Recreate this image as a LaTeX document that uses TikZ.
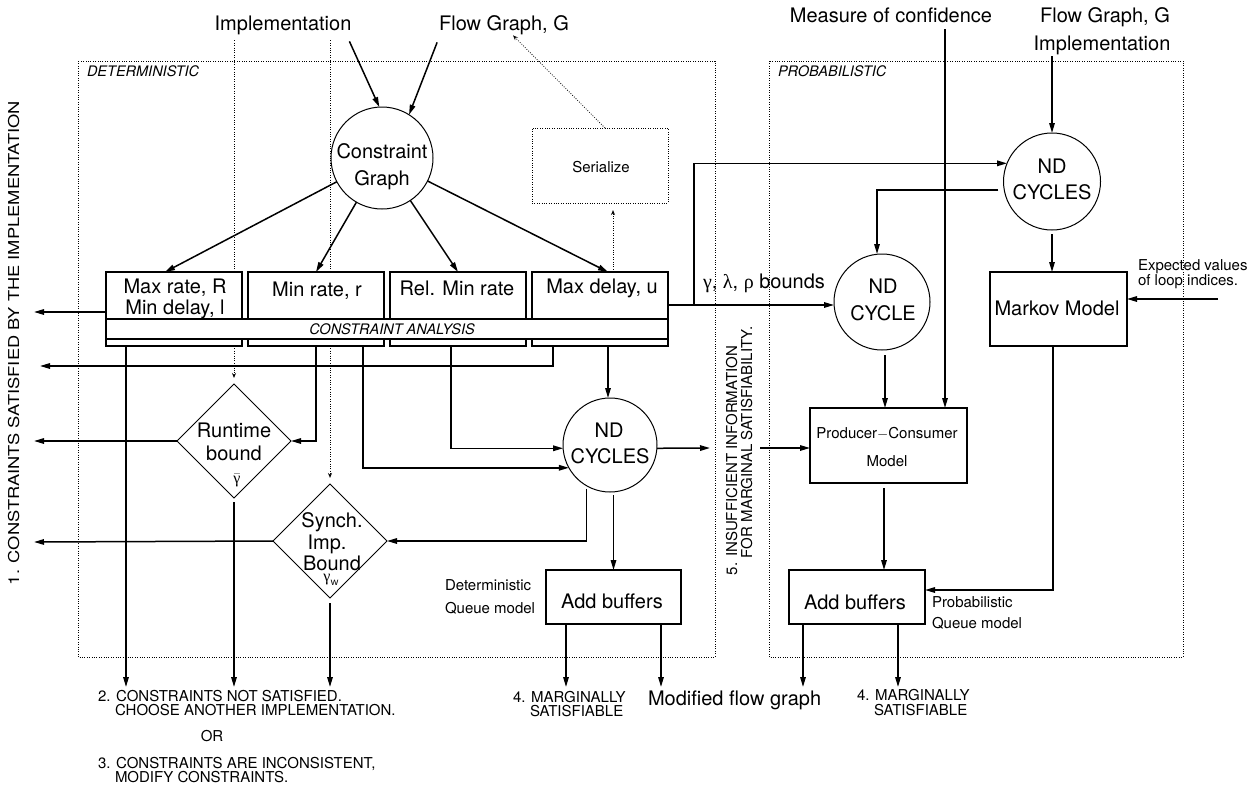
\documentclass[tikz,border=0pt]{standalone}
\usepackage{fontspec}
\setmainfont{TeX Gyre Heros}
\newfontfamily\grk{Liberation Serif}
\usetikzlibrary{arrows.meta,shapes.geometric,calc}
\begin{document}
\begin{tikzpicture}[x=1pt,y=-1pt,
  every node/.style={inner sep=0pt,outer sep=0pt},
  lbl/.style={anchor=base,font=\fontsize{20}{22}\selectfont},
  lblw/.style={anchor=base west,font=\fontsize{20}{22}\selectfont},
  sml/.style={anchor=base,font=\fontsize{15}{16}\selectfont},
  smlw/.style={anchor=base west,font=\fontsize{15}{16}\selectfont},
  tag/.style={anchor=base west,font=\fontsize{14.5}{16}\selectfont\itshape},
  link/.style={line width=1.5pt},
  arr/.style={link,-{Triangle[length=10pt,width=5.5pt]}},
  dots/.style={line width=0.8pt,dash pattern=on 0.8pt off 1.6pt},
  darr/.style={dots,-{Stealth[length=5pt,width=4pt,open]}},
  blk/.style={draw,line width=1.3pt,fill=white,rectangle},
  circ/.style={draw,circle,line width=1pt,minimum size=#1,fill=white},
  dmd/.style={draw,diamond,line width=1pt,minimum width=114pt,minimum height=114pt,aspect=1,fill=white},
]
\useasboundingbox (0,0) rectangle (1255,787);

% ---------- the two regions ----------
\draw[dots] (78,61) rectangle (715,657);
\draw[dots] (769,61) rectangle (1183,657);
\node[tag] (detlab) at (87,76) {DETERMINISTIC};
\node[tag] (problab) at (778,76) {PROBABILISTIC};

% ---------- inputs at the top ----------
\node[lbl] (impl) at (283,30) {Implementation};
\node[lbl] (fg) at (504,30) {Flow Graph, G};
\node[lbl] (moc) at (891,23) {Measure of confidence};
\node[lbl] (fg2) at (1105,23) {Flow Graph, G};
\node[lbl] (impl2) at (1102,50) {Implementation};

% ---------- deterministic side ----------
\node[circ=102pt] (cg) at (382,158) {};
\node[lbl] (cgt1) at (382,158) {Constraint};
\node[lbl] (cgt2) at (382,185) {Graph};

\node[draw,dots,minimum width=136pt,minimum height=75pt] (ser) at (600,165.5) {};
\node[sml] (sert) at (601,172) {Serialize};

\node[blk,minimum width=136pt,minimum height=74pt] (b1) at (174,309) {};
\node[blk,minimum width=136pt,minimum height=74pt] (b2) at (316,309) {};
\node[blk,minimum width=136pt,minimum height=74pt] (b3) at (458,309) {};
\node[blk,minimum width=136pt,minimum height=74pt] (b4) at (600,309) {};
\node[blk,minimum width=562pt,minimum height=20pt] (ca) at (387,329) {};
\node[tag,anchor=base] (cat) at (392,334) {CONSTRAINT ANALYSIS};
\node[lbl] (b1t1) at (175,293) {Max rate, R};
\node[lbl] (b1t2) at (175,314) {Min delay, l};
\node[lbl] (b2t) at (317,296) {Min rate, r};
\node[lbl] (b3t) at (457,295) {Rel. Min rate};
\node[lbl] (b4t) at (602,293) {Max delay, u};

\node[dmd] (rb) at (234,441) {};
\node[lbl] (rbt1) at (234,437) {Runtime};
\node[lbl] (rbt2) at (234,460) {bound};
\node[font=\fontsize{16}{16}\grk] (rbt3) at (237,480) {$\bar{\hbox{\grk γ}}$};

\node[dmd] (sb) at (330,541) {};
\node[lbl] (sbt1) at (332,527) {Synch.};
\node[lbl] (sbt2) at (327,549) {Imp.};
\node[lbl] (sbt3) at (332,570) {Bound};
\node[font=\fontsize{16}{16}\grk] (sbt4) at (331,580) {γ\raisebox{-4pt}{\fontsize{12}{12}\selectfont\sffamily w}};

\node[circ=94pt] (ndm) at (610,445) {};
\node[lbl] (ndmt1) at (609,437) {ND};
\node[lbl] (ndmt2) at (610,463) {CYCLES};

\node[blk,minimum width=135pt,minimum height=54pt] (ab1) at (613.5,597) {};
\node[lbl] (ab1t) at (612,608) {Add buffers};
\node[smlw] (dq1) at (445,590) {Deterministic};
\node[smlw] (dq2) at (445,613) {Queue model};

\node[lblw] (bnd) at (703,288) {{\grk γ}, {\grk λ}, {\grk ρ} bounds};

% ---------- probabilistic side ----------
\node[circ=97pt] (ndt) at (1052,181.5) {};
\node[lbl] (ndtt1) at (1052,173) {ND};
\node[lbl] (ndtt2) at (1052,199) {CYCLES};

\node[circ=96pt] (ndc) at (882,302) {};
\node[lbl] (ndct1) at (883,293) {ND};
\node[lbl] (ndct2) at (883,320) {CYCLE};

\node[blk,minimum width=137pt,minimum height=74pt] (mk) at (1058.5,309) {};
\node[lbl] (mkt) at (1057,315) {Markov Model};
\node[smlw] (ev1) at (1138,270) {Expected values};
\node[smlw] (ev2) at (1138,285) {of loop indices.};

\node[blk,minimum width=157pt,minimum height=75pt] (pc) at (888.5,445.5) {};
\node[sml] (pct1) at (887,438) {Producer$-$Consumer};
\node[sml] (pct2) at (887,466) {Model};

\node[blk,minimum width=136pt,minimum height=54pt] (ab2) at (857,597) {};
\node[lbl] (ab2t) at (855,609) {Add buffers};
\node[smlw] (pq1) at (932,607) {Probabilistic};
\node[smlw] (pq2) at (932,628) {Queue model};

% ---------- outcomes ----------
\node[anchor=base,font=\fontsize{15}{16}\selectfont,rotate=90] (out1) at (19,343)
  {\scalebox{1.22}[1]{1. CONSTRAINTS SATISFIED BY THE IMPLEMENTATION}};
\node[smlw] (o2a) at (98,701) {2. CONSTRAINTS NOT SATISFIED.};
\node[smlw] (o2b) at (115,715) {CHOOSE ANOTHER IMPLEMENTATION.};
\node[sml] (oor) at (212,741) {OR};
\node[smlw] (o3a) at (98,768) {3. CONSTRAINTS ARE INCONSISTENT,};
\node[smlw] (o3b) at (115,782) {MODIFY CONSTRAINTS.};
\node[smlw] (m1a) at (513,702) {4. MARGINALLY};
\node[smlw] (m1b) at (530,716) {SATISFIABLE};
\node[lblw] (mfg) at (648,705) {Modified flow graph};
\node[smlw] (m2a) at (857,700) {4. MARGINALLY};
\node[smlw] (m2b) at (874,715) {SATISFIABLE};
\node[smlw,rotate=90] (r5a) at (737,575) {5. INSUFFICIENT INFORMATION};
\node[smlw,rotate=90] (r5b) at (752,558) {FOR MARGINAL SATISFIABILITY.};

% ---------- free ends and bends ----------
\coordinate (s1) at (34,312);
\coordinate (s2) at (40,366);
\coordinate (s3) at (34,441);
\coordinate (s4) at (34,542);
\coordinate (bot) at (0,687);
\coordinate (jn) at (694,305);
\coordinate (i5a) at (710,448);
\coordinate (i5b) at (760,448);
\coordinate (ev) at (1218,299);
\coordinate (p1) at ([xshift=20pt]b1.south west);
\coordinate (p2) at ([xshift=115pt]b2.south west);
\coordinate (p3) at ([xshift=61pt]b3.south west);
\coordinate (p4) at ([xshift=8pt]b4.south);
\coordinate (p5) at ([xshift=20pt]ab1.south west);
\coordinate (p6) at ([xshift=115pt]ab1.south west);
\coordinate (p7) at ([xshift=3pt]ndc.south);
\coordinate (p8) at ([xshift=-22pt]pc.north east);
\coordinate (p9) at ([xshift=-4.5pt]pc.south);
\coordinate (p10) at ([xshift=14pt]ab2.south west);
\coordinate (p11) at ([xshift=109pt]ab2.south west);

% ---------- dotted links ----------
\draw[dots] ($(impl.south -| rb.north)+(0,6)$) -- (rb.north |- b1.north);
\draw[darr,shorten >=6pt] (rb.north |- b1.south) -- (rb.north);
\draw[dots] ($(impl.south -| sb.north)+(0,6)$) -- (sb.north |- b2.north);
\draw[darr,shorten >=6pt] (sb.north |- b2.south) -- (sb.north);
\draw[darr] ([xshift=5pt]ser.north) -- ($(fg.south)+(9,1)$);
\draw[darr,shorten >=7pt] ([xshift=13pt]b4.north) -- ([xshift=13pt]ser.south);

% ---------- deterministic links ----------
\draw[arr] ($(impl.south east)+(-2,7)$) -- (cg.93);
\draw[arr] ($(fg.south west)+(-2,8)$) -- (cg.58);
\draw[arr] (cg) -- ([xshift=-9pt]b1.north);
\draw[arr] (cg) -- (b2.north);
\draw[arr] (cg) -- (b3.north);
\draw[arr] (cg) -- ([xshift=8pt]b4.north);

\draw[arr] (b1.west |- s1) -- (s1);
\draw[arr] ([xshift=21pt]b4.south west) |- (s2);
\draw[arr] (rb.west) -- (s3);
\draw[arr] (sb.west) -- (s4);

\draw[arr] (p1) -- (p1 |- bot);
\draw[arr,shorten <=4pt] (rb.south) -- (rb.south |- bot);
\draw[arr,shorten <=5pt] (sb.south) -- (sb.south |- bot);

\draw[arr] (b2.south) |- (rb.east);
\draw[arr] (p2) |- (ndm.209);
\draw[arr] (p3) |- (ndm.184);
\draw[arr] (p4) -- (p4 |- ndm.north);
\draw[arr,shorten <=3pt] (ndm.240) |- (sb.east);
\draw[arr,shorten <=3pt] (ab1.north |- ndm.south) -- (ab1.north);
\draw[arr] (p5) -- (p5 |- bot);
\draw[arr] (p6) -- (p6 |- bot);
\draw[arr] (ndm.356) -- (i5a);
\draw[arr] (i5b) -- (i5b -| pc.west);

% ---------- links into the probabilistic side ----------
\draw[arr] ([yshift=4pt]b4.east) -- ([yshift=4pt]b4.east -| ndc.west);
\draw[arr] (jn) |- (ndt.158);
\draw[arr] ([xshift=-6pt]ndt.190) -| ([xshift=-5pt]ndc.north);
\draw[arr] ($(impl2.south -| ndt.north)+(0,2)$) -- (ndt.north);
\draw[arr,shorten <=4pt] (ndt.south) -- (ndt.south |- mk.north);
\draw[arr] (ev) -- (ev -| mk.east);
\draw[arr] ([xshift=-5.5pt]mk.south) |- ([yshift=7pt]ab2.east);
\draw[arr,shorten <=5pt] (p7) -- (p7 |- pc.north);
\draw[arr] ($(moc.south -| p8)+(0,6)$) -- (p8);
\draw[arr,shorten <=5pt] (p9) -- (p9 |- ab2.north);
\draw[arr] (p10) -- (p10 |- bot);
\draw[arr] (p11) -- (p11 |- bot);
\end{tikzpicture}
\end{document}
